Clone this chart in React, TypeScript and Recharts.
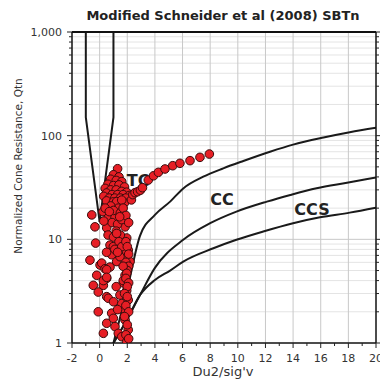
import { ComposedChart, Line, Scatter, XAxis, YAxis, ReferenceLine, ReferenceDot } from "recharts";

// boundary lines (x = Du2/sig'v, q = Qtn)
const leftBoundary = [
  { x: -1, q: 1000 },
  { x: -1, q: 150 },
  { x: 0, q: 14.7 },
];
const rightBoundary = [
  { x: 1, q: 1000 },
  { x: 1, q: 150 },
  { x: 0, q: 14.7 },
];
const ccUpper = [
  { x: 1, q: 1 },
  { x: 2, q: 3.3 },
  { x: 2.92, q: 10.8 },
  { x: 4.0, q: 17.2 },
  { x: 5.1, q: 23.1 },
  { x: 6.05, q: 31 },
  { x: 7.5, q: 40.2 },
  { x: 8.95, q: 48.4 },
  { x: 10.4, q: 57 },
  { x: 12.33, q: 70 },
  { x: 14.0, q: 82 },
  { x: 16.2, q: 96 },
  { x: 18.1, q: 108 },
  { x: 20, q: 119 },
];
const ccLower = [
  { x: 1, q: 1 },
  { x: 2, q: 1.7 },
  { x: 2.92, q: 2.9 },
  { x: 4.0, q: 5.3 },
  { x: 6.05, q: 9.9 },
  { x: 8.0, q: 14.3 },
  { x: 9.9, q: 18.5 },
  { x: 12.1, q: 23.1 },
  { x: 13.8, q: 26.8 },
  { x: 15.7, q: 31.1 },
  { x: 17.9, q: 35.2 },
  { x: 20, q: 39.6 },
];
const ccsLower = [
  { x: 1, q: 1 },
  { x: 2, q: 1.7 },
  { x: 2.92, q: 2.9 },
  { x: 4.0, q: 4.05 },
  { x: 5.1, q: 5.0 },
  { x: 6.05, q: 6.1 },
  { x: 8.23, q: 8.2 },
  { x: 9.9, q: 9.9 },
  { x: 11.84, q: 11.9 },
  { x: 14.0, q: 14.3 },
  { x: 15.95, q: 16.3 },
  { x: 18.1, q: 18.1 },
  { x: 20, q: 20.2 },
];

// CPT data points [Du2/sig'v, Qtn]
const cptPoints: [number, number][] = [
  [1.3, 48], [1.0, 42], [1.4, 40], [0.8, 38], [1.2, 37], [1.6, 36], [0.6, 34], [1.0, 33],
  [1.4, 33.5], [1.8, 32], [0.4, 31], [0.8, 30], [1.2, 30], [1.6, 29], [1.95, 28.5], [0.5, 28],
  [0.9, 27], [1.3, 27], [1.7, 27], [2.15, 26.5], [0.3, 26], [0.7, 25], [1.1, 25], [1.5, 25],
  [1.9, 25], [0.5, 23.5], [1.0, 23], [1.4, 23], [1.8, 22.5], [2.3, 24],
  [2.4, 27], [2.56, 28.2], [2.75, 28.8], [2.95, 29.8], [3.1, 31.5], [3.52, 37.3],
  [3.9, 41], [4.25, 44.3], [4.73, 47.7], [5.29, 51.3],
  [5.81, 54.1], [6.54, 57.4], [7.26, 61.8], [7.94, 66.5],
  [-0.57, 17.2], [-0.34, 13.2], [-0.29, 9.2], [0.24, 18.5], [0.61, 16.1], [0.51, 12.9],
  [0.61, 11.0], [1.23, 23.1], [1.35, 20.0], [1.11, 16.1], [1.6, 23.9], [1.84, 13.2],
  [1.96, 10.3], [0.8, 21], [1.0, 19], [1.5, 18], [0.9, 14.5], [1.3, 14], [1.6, 15.5],
  [1.2, 12], [1.5, 11], [1.0, 10.5], [0.4, 20], [0.3, 15], [1.7, 20], [1.9, 17],
  [1.23, 11.4], [2.1, 14.5], [0.7, 18.5], [1.45, 16.5],
  [-0.7, 6.3], [0.03, 5.65], [0.75, 8.8], [0.87, 7.1], [1.23, 6.1], [2.07, 7.9], [1.96, 6.6],
  [0.99, 8.5], [1.47, 6.8], [1.96, 7.6], [2.2, 6.1], [0.75, 5.4], [0.15, 5.9], [0.39, 5.2],
  [1.4, 9.5], [1.1, 8], [1.6, 8.5], [0.5, 7.5], [1.9, 9.5], [2.0, 8.5], [2.1, 7.2],
  [1.9, 6.0], [2.1, 5.5], [2.0, 5.0], [1.7, 5.5], [1.3, 7.5],
  [-0.21, 4.5], [0.51, 5.1], [0.51, 4.2], [-0.46, 3.6], [0.27, 3.6], [-0.1, 3.1], [0.51, 2.8],
  [-0.1, 2.0], [0.51, 1.55], [0.27, 1.24], [0.87, 1.94], [0.99, 1.73], [1.11, 1.44],
  [1.35, 1.24], [1.6, 1.15], [1.96, 1.03], [1.47, 2.9], [1.6, 2.4], [1.84, 2.1], [1.71, 3.8],
  [1.84, 4.5], [1.96, 3.2], [2.07, 2.6], [1.84, 1.67], [2.07, 1.34], [0.27, 4.0], [0.51, 4.3],
  [0.63, 2.7], [1.71, 4.0], [1.96, 4.7], [1.9, 4.2], [2.1, 3.8], [2.0, 3.5], [1.8, 3.0],
  [2.0, 2.8], [1.9, 2.3], [2.1, 2.0], [1.8, 1.8], [2.0, 1.5], [1.9, 1.2], [2.1, 1.1],
  [1.2, 3.5], [1.0, 2.5], [1.3, 2.1],
];
const points = cptPoints.map(([x, q]) => ({ x, q }));

const xTicks = Array.from({ length: 23 }, (_, i) => i - 2);
const xGrid = [0, 2, 4, 6, 8, 10, 12, 14, 16, 18];
const majorY = [1, 10, 100, 1000];
const minorY = [2, 3, 4, 5, 6, 7, 8, 9, 20, 30, 40, 50, 60, 70, 80, 90, 200, 300, 400, 500, 600, 700, 800, 900];
const yTicks = [...majorY, ...minorY].sort((a, b) => a - b);

const zoneLabels = [
  { name: "TC", x: 2.78, q: 37.5 },
  { name: "CC", x: 8.86, q: 24.5 },
  { name: "CCS", x: 15.37, q: 19.6 },
];

const FONT = "'DejaVu Sans', Verdana, sans-serif";

const LeftTick = ({ x, y, payload }: any) => {
  const v = payload.value;
  const major = majorY.includes(v);
  return (
    <g>
      <line x1={x - (major ? 5 : 3)} x2={x} y1={y} y2={y} stroke="#222" />
      {major && (
        <text x={x - 10} y={y + 4} textAnchor="end" fontSize={11} fill="#333" fontFamily={FONT}>
          {v.toLocaleString("en-US")}
        </text>
      )}
    </g>
  );
};

const RightTick = ({ x, y, payload }: any) => {
  const major = majorY.includes(payload.value);
  return <line x1={x} x2={x + (major ? 5 : 3)} y1={y} y2={y} stroke="#222" />;
};

const BottomTick = ({ x, y, payload }: any) => {
  const v = payload.value;
  const major = v % 2 === 0;
  return (
    <g>
      <line x1={x} x2={x} y1={y} y2={y + (major ? 5 : 3)} stroke="#222" />
      {major && (
        <text x={x} y={y + 19} textAnchor="middle" fontSize={11} fill="#333" fontFamily={FONT}>
          {v}
        </text>
      )}
    </g>
  );
};

const TopTick = ({ x, y, payload }: any) => {
  const major = payload.value % 2 === 0;
  return <line x1={x} x2={x} y1={y} y2={y - (major ? 5 : 3)} stroke="#222" />;
};

const Dot = (props: any) => (
  <circle cx={props.cx} cy={props.cy} r={4.3} fill="#e61e25" stroke="#3a0b0b" strokeWidth={1} />
);

const ZoneText = (name: string) => (props: any) => {
  const { viewBox } = props;
  return (
    <text x={viewBox.x} y={viewBox.y + 6} textAnchor="middle" fontSize={16} fontWeight="bold" fill="#222" fontFamily={FONT}>
      {name}
    </text>
  );
};

export default function App() {
  return (
    <div style={{ position: "absolute", left: 0, top: 0, width: 380, height: 385 }}>
      <ComposedChart width={380} height={385} margin={{ top: 26, right: 0, bottom: 0, left: 32 }}>
        <XAxis
          dataKey="x"
          type="number"
          domain={[-2, 20]}
          ticks={xTicks}
          interval={0}
          allowDataOverflow
          tick={<BottomTick />}
          tickLine={false}
          tickSize={0}
          tickMargin={0}
          height={42}
          axisLine={{ stroke: "#111", strokeWidth: 1.5 }}
        />
        <XAxis
          xAxisId="top"
          orientation="top"
          type="number"
          domain={[-2, 20]}
          ticks={xTicks}
          interval={0}
          allowDataOverflow
          tick={<TopTick />}
          tickLine={false}
          tickSize={0}
          tickMargin={0}
          height={6}
          axisLine={{ stroke: "#111", strokeWidth: 2 }}
        />
        <YAxis
          dataKey="q"
          type="number"
          scale="log"
          domain={[1, 1000]}
          ticks={yTicks}
          interval={0}
          allowDataOverflow
          tick={<LeftTick />}
          tickLine={false}
          tickSize={0}
          tickMargin={0}
          width={40}
          axisLine={{ stroke: "#111", strokeWidth: 1.5 }}
        />
        <YAxis
          yAxisId="right"
          orientation="right"
          type="number"
          scale="log"
          domain={[1, 1000]}
          ticks={yTicks}
          interval={0}
          allowDataOverflow
          tick={<RightTick />}
          tickLine={false}
          tickSize={0}
          tickMargin={0}
          width={4}
          axisLine={{ stroke: "#111", strokeWidth: 1.5 }}
        />
        {minorY.map((v) => (
          <ReferenceLine key={"hm" + v} y={v} stroke="#e4e4e4" strokeWidth={1} />
        ))}
        {[10, 100].map((v) => (
          <ReferenceLine key={"hM" + v} y={v} stroke="#c8c8c8" strokeWidth={1} />
        ))}
        {xGrid.map((v) => (
          <ReferenceLine key={"v" + v} x={v} stroke="#c8c8c8" strokeWidth={1} />
        ))}
        {zoneLabels.map((z) => (
          <ReferenceDot key={z.name} x={z.x} y={z.q} r={0} fill="none" stroke="none" label={ZoneText(z.name)} />
        ))}
        <Scatter data={points} dataKey="q" shape={<Dot />} isAnimationActive={false} />
        {[leftBoundary, rightBoundary].map((d, i) => (
          <Line key={"b" + i} data={d} dataKey="q" type="linear" stroke="#1a1a1a" strokeWidth={2} dot={false} activeDot={false} isAnimationActive={false} />
        ))}
        {[ccUpper, ccLower, ccsLower].map((d, i) => (
          <Line key={"c" + i} data={d} dataKey="q" type="monotone" stroke="#1a1a1a" strokeWidth={2} dot={false} activeDot={false} isAnimationActive={false} />
        ))}
      </ComposedChart>
      <svg width={380} height={385} style={{ position: "absolute", left: 0, top: 0, pointerEvents: "none" }}>
        <text x={223} y={19.5} textAnchor="middle" fontSize={13} fontWeight="bold" fill="#222" fontFamily={FONT}>
          Modified Schneider et al (2008) SBTn
        </text>
        <text x={223} y={376} textAnchor="middle" fontSize={13} fill="#333" fontFamily={FONT}>
          Du2/sig'v
        </text>
        <text x={21.5} y={166} textAnchor="middle" fontSize={10.5} fill="#333" fontFamily={FONT} transform="rotate(-90, 21.5, 166)">
          Normalized Cone Resistance, Qtn
        </text>
      </svg>
    </div>
  );
}
